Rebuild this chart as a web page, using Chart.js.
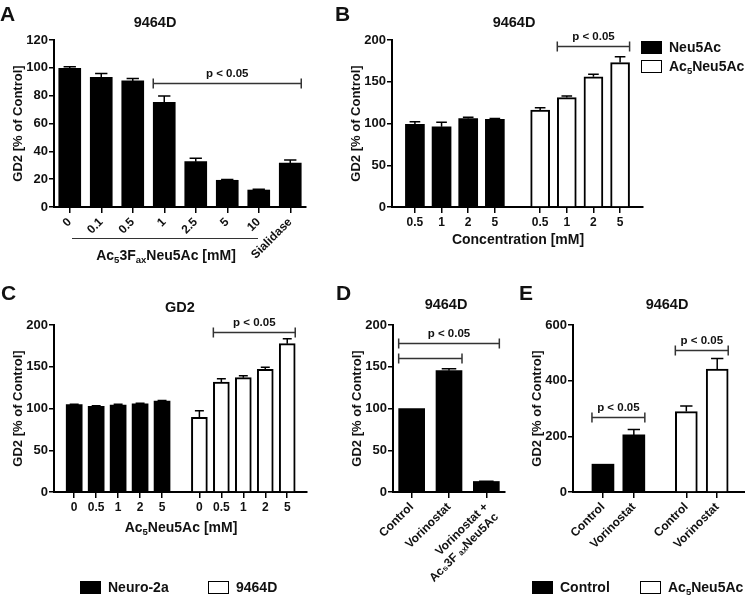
<!DOCTYPE html>
<html>
<head>
<meta charset="utf-8">
<script src="https://cdn.jsdelivr.net/npm/chart.js@4.4.0/dist/chart.umd.min.js"></script>
<style>
  body { margin: 0; background: #fff; }
  #fig { position: relative; width: 745px; height: 595px; overflow: hidden;
         font-family: "Liberation Sans", Arial, sans-serif; font-weight: bold; color: #111; }
  canvas { position: absolute; }
  .t { position: absolute; white-space: nowrap; line-height: 1; }
  .letter { font-size: 21px; }
  .ttl { font-size: 14.5px; transform: translate(-50%, -50%); }
  .axt { font-size: 14px; transform: translate(-50%, -50%); }
  .leg { position: absolute; font-size: 14px; display: flex; align-items: center; white-space: nowrap; }
  .sw { width: 21px; height: 13px; border: 1.5px solid #000; box-sizing: border-box; margin-right: 7px; }
  .uline { position: absolute; border-top: 1.5px solid #333; height: 0; }
  sub { font-size: 0.68em; vertical-align: -0.3em; line-height: 0; }
</style>
</head>
<body>
<div id="fig">
  <canvas id="chartA" width="320" height="275" style="left:0;top:0"></canvas>
  <canvas id="chartB" width="320" height="250" style="left:335px;top:0"></canvas>
  <canvas id="chartC" width="320" height="250" style="left:0;top:290px"></canvas>
  <canvas id="chartD" width="175" height="305" style="left:335px;top:290px"></canvas>
  <canvas id="chartE" width="230" height="280" style="left:515px;top:290px"></canvas>

  <div class="t letter" style="left:0;top:3px">A</div>
  <div class="t letter" style="left:335px;top:3px">B</div>
  <div class="t letter" style="left:1px;top:282px">C</div>
  <div class="t letter" style="left:336px;top:282px">D</div>
  <div class="t letter" style="left:519px;top:282px">E</div>

  <div class="t ttl" style="left:155px;top:22px">9464D</div>
  <div class="t ttl" style="left:514px;top:22px">9464D</div>
  <div class="t ttl" style="left:180px;top:307px">GD2</div>
  <div class="t ttl" style="left:446px;top:304px">9464D</div>
  <div class="t ttl" style="left:667px;top:304px">9464D</div>

  <div class="uline" style="left:72px;top:238px;width:186px"></div>
  <div class="t axt" style="left:166px;top:255px">Ac<sub>5</sub>3F<sub>ax</sub>Neu5Ac [mM]</div>
  <div class="t axt" style="left:518px;top:239px">Concentration [mM]</div>
  <div class="t axt" style="left:181px;top:527px">Ac<sub>5</sub>Neu5Ac [mM]</div>

  <div class="leg" style="left:641px;top:39px"><div class="sw" style="background:#000"></div><span>Neu5Ac</span></div>
  <div class="leg" style="left:641px;top:58px"><div class="sw" style="background:#fff"></div><span>Ac<sub>5</sub>Neu5Ac</span></div>
  <div class="leg" style="left:80px;top:579px"><div class="sw" style="background:#000"></div><span>Neuro-2a</span></div>
  <div class="leg" style="left:208px;top:579px"><div class="sw" style="background:#fff"></div><span>9464D</span></div>
  <div class="leg" style="left:532px;top:579px"><div class="sw" style="background:#000"></div><span>Control</span></div>
  <div class="leg" style="left:640px;top:579px"><div class="sw" style="background:#fff"></div><span>Ac<sub>5</sub>Neu5Ac</span></div>
</div>
<script>
// panel A
const aLabels = ["0", "0.1", "0.5", "1", "2.5", "5", "10", "Sialidase"];
const aValues = [99.7, 93.2, 90.6, 75.2, 32.6, 19.2, 12.2, 31.6];
const aErrors = [1.0, 2.8, 1.7, 4.6, 2.4, 0.6, 0.5, 2.2];

// panel B
const bLabels = ["0.5", "1", "2", "5"];
const bNeu5Ac = [99, 96, 106, 105];
const bNeu5AcErr = [3, 5.5, 1.5, 1];
const bAc5Neu5Ac = [116, 131, 156, 173];
const bAc5Neu5AcErr = [3, 2, 3, 7];

// panel C
const cLabels = ["0", "0.5", "1", "2", "5"];
const cNeuro2a = [104.6, 102.6, 104.2, 105.7, 109.0];
const cNeuro2aErr = [0.5, 0.6, 0.8, 0.5, 0.6];
const c9464D = [89.4, 131.7, 136.9, 147, 177.6];
const c9464DErr = [8, 4, 2.4, 2.3, 6];

// panel D
const dLabels = ["Control", "Vorinostat", ["Vorinostat +", "Ac\u20853F \u2090\u2093Neu5Ac"]];
const dValues = [100, 145.3, 12.6];
const dErrors = [0, 2.2, 0.4];

// panel E
const eLabels = ["Control", "Vorinostat"];
const eControl = [100, 205];
const eControlErr = [0, 20];
const eAc5Neu5Ac = [289, 442];
const eAc5Neu5AcErr = [20, 38];

const sigText = "p < 0.05";
const FONT = "'Liberation Sans', Arial, sans-serif";
const GAP = 1.7; // distance between the last bar of group 1 and the first of group 2

function groupPos(n) {
    let p = [];
    for (let i = 0; i < n; i++) p.push(i);
    for (let i = 0; i < n; i++) p.push(n - 1 + GAP + i);
    return p;
}

const errorBars = {
    id: "errorBars",
    afterDatasetsDraw(chart) {
        const ctx = chart.ctx;
        const y = chart.scales.y;
        chart.data.datasets.forEach((ds, di) => {
            chart.getDatasetMeta(di).data.forEach((bar, i) => {
                const err = ds.errors[i];
                if (!err) return;
                const v = typeof ds.data[i] === "object" ? ds.data[i].y : ds.data[i];
                const top = y.getPixelForValue(v + err);
                const half = bar.width * 0.28;
                ctx.save();
                ctx.strokeStyle = "#000";
                ctx.lineWidth = 1.5;
                ctx.beginPath();
                ctx.moveTo(bar.x, bar.y);
                ctx.lineTo(bar.x, top);
                ctx.moveTo(bar.x - half, top);
                ctx.lineTo(bar.x + half, top);
                ctx.stroke();
                ctx.restore();
            });
        });
    }
};

function bracketPlugin(items) {
    return {
        id: "brackets",
        afterDraw(chart) {
            const ctx = chart.ctx;
            const y = chart.scales.y;
            items.forEach(b => {
                const bars = chart.getDatasetMeta(b.ds || 0).data;
                const x1 = bars[b.from].x - bars[b.from].width / 2;
                const x2 = bars[b.to].x + bars[b.to].width / 2;
                const yy = Math.round(y.getPixelForValue(b.y)) + 0.5;
                ctx.save();
                ctx.strokeStyle = "#333";
                ctx.lineWidth = 1.5;
                ctx.beginPath();
                ctx.moveTo(x1, yy); ctx.lineTo(x2, yy);
                ctx.moveTo(x1, yy - 5); ctx.lineTo(x1, yy + 5);
                ctx.moveTo(x2, yy - 5); ctx.lineTo(x2, yy + 5);
                ctx.stroke();
                if (b.text) {
                    ctx.fillStyle = "#111";
                    ctx.font = "bold 11.5px " + FONT;
                    ctx.textAlign = "center";
                    ctx.textBaseline = "bottom";
                    ctx.fillText(b.text, (x1 + x2) / 2, yy - 4);
                }
                ctx.restore();
            });
        }
    };
}

function makeChart(id, cfg) {
    const linear = !!cfg.xPos;
    let xScale = {
        type: linear ? "linear" : "category",
        offset: !linear,
        grid: { offset: false, drawOnChartArea: false, drawTicks: true, tickLength: 6, color: "#000", lineWidth: 1.5 },
        border: { display: true, color: "#000", width: 2 },
        ticks: { autoSkip: false, maxRotation: cfg.rot, minRotation: cfg.rot, padding: 2, color: "#111",
                 font: { family: FONT, size: 12, weight: "bold" } },
        afterFit: s => { s.height = cfg.xHeight; }
    };
    if (linear) {
        xScale.min = cfg.xMin;
        xScale.max = cfg.xMax;
        xScale.afterBuildTicks = s => { s.ticks = cfg.xPos.map(v => ({ value: v })); };
        xScale.ticks.callback = (v, i) => cfg.xLabels[i];
    }
    const datasets = cfg.series.map(s => ({
        data: linear ? s.values.map((v, i) => ({ x: cfg.xPos[s.offset + i], y: v })) : s.values,
        errors: s.errors,
        backgroundColor: s.fill,
        borderColor: "#000",
        borderWidth: s.fill === "#000" ? 0 : 2,
        barThickness: cfg.barWidth,
        grouped: false
    }));
    return new Chart(document.getElementById(id), {
        type: "bar",
        data: { labels: linear ? undefined : cfg.xLabels, datasets: datasets },
        options: {
            responsive: false,
            animation: false,
            layout: { padding: cfg.padding },
            plugins: { legend: { display: false }, tooltip: { enabled: false } },
            scales: {
                x: xScale,
                y: {
                    min: 0, max: cfg.yMax,
                    ticks: { stepSize: cfg.yStep, padding: 1, color: "#111",
                             font: { family: FONT, size: 13, weight: "bold" } },
                    grid: { drawOnChartArea: false, drawTicks: true, tickLength: 5, color: "#000", lineWidth: 1.5 },
                    border: { display: true, color: "#000", width: 2 },
                    title: { display: true, text: "GD2 [% of Control]", color: "#111", padding: 0,
                             font: { family: FONT, size: 13, weight: "bold" } },
                    afterFit: s => { s.width = 43; }
                }
            }
        },
        plugins: [errorBars, bracketPlugin(cfg.brackets)]
    });
}

makeChart("chartA", {
    xLabels: aLabels, rot: 45, xHeight: 68, barWidth: 22,
    padding: { left: 11, top: 40, right: 14, bottom: 0 },
    yMax: 120, yStep: 20,
    series: [{ values: aValues, errors: aErrors, fill: "#000" }],
    brackets: [{ from: 3, to: 7, y: 89.3, text: sigText }]
});

let bPos = groupPos(bLabels.length);
makeChart("chartB", {
    xPos: bPos, xLabels: bLabels.concat(bLabels), xMin: -0.86, xMax: bPos[bPos.length - 1] + 0.86,
    rot: 0, xHeight: 43, barWidth: 19,
    padding: { left: 14, top: 40, right: 12, bottom: 0 },
    yMax: 200, yStep: 50,
    series: [
        { values: bNeu5Ac, errors: bNeu5AcErr, fill: "#000", offset: 0 },
        { values: bAc5Neu5Ac, errors: bAc5Neu5AcErr, fill: "#fff", offset: bLabels.length }
    ],
    brackets: [{ ds: 1, from: 1, to: 3, y: 193, text: sigText }]
});

let cPos = groupPos(cLabels.length);
makeChart("chartC", {
    xPos: cPos, xLabels: cLabels.concat(cLabels), xMin: -0.92, xMax: cPos[cPos.length - 1] + 0.9,
    rot: 0, xHeight: 48, barWidth: 16,
    padding: { left: 11, top: 35, right: 13, bottom: 0 },
    yMax: 200, yStep: 50,
    series: [
        { values: cNeuro2a, errors: cNeuro2aErr, fill: "#000", offset: 0 },
        { values: c9464D, errors: c9464DErr, fill: "#fff", offset: cLabels.length }
    ],
    brackets: [{ ds: 1, from: 1, to: 4, y: 191.6, text: sigText }]
});

makeChart("chartD", {
    xLabels: dLabels, rot: 45, xHeight: 103, barWidth: 26,
    padding: { left: 15, top: 35, right: 5, bottom: 0 },
    yMax: 200, yStep: 50,
    series: [{ values: dValues, errors: dErrors, fill: "#000" }],
    brackets: [{ from: 0, to: 2, y: 178, text: sigText }, { from: 0, to: 1, y: 161, text: "" }]
});

let ePos = groupPos(eLabels.length);
makeChart("chartE", {
    xPos: ePos, xLabels: eLabels.concat(eLabels), xMin: -0.97, xMax: ePos[ePos.length - 1] + 0.9,
    rot: 45, xHeight: 78, barWidth: 22,
    padding: { left: 15, top: 35, right: 0, bottom: 0 },
    yMax: 600, yStep: 200,
    series: [
        { values: eControl, errors: eControlErr, fill: "#000", offset: 0 },
        { values: eAc5Neu5Ac, errors: eAc5Neu5AcErr, fill: "#fff", offset: eLabels.length }
    ],
    brackets: [{ ds: 0, from: 0, to: 1, y: 268, text: sigText }, { ds: 1, from: 0, to: 1, y: 510, text: sigText }]
});
</script>
</body>
</html>
